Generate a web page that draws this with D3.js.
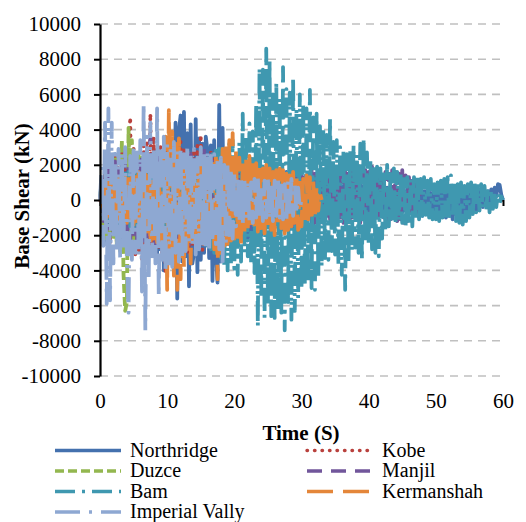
<!DOCTYPE html>
<html>
<head>
<meta charset="utf-8">
<script src="https://cdn.jsdelivr.net/npm/d3@7"></script>
<style>
  body { margin: 0; background: #fff; }
  svg text { font-family: "Liberation Serif", "Times New Roman", Times, Tinos, "DejaVu Serif", serif; fill: #000; }
</style>
</head>
<body>
<div id="chart"></div>
<script>
// sampling step of the records (s)
const dt = 0.25;

const seriesNames = ["Northridge", "Kobe", "Duzce", "Manjil", "Bam", "Kermanshah", "Imperial Vally"];
const timeTicks = [0, 10, 20, 30, 40, 50, 60];
const shearTicks = [-10000, -8000, -6000, -4000, -2000, 0, 2000, 4000, 6000, 8000, 10000];

// base shear (kN), one value every dt
const northridge = [
  0, 1200, -1800, 2200, -2500, 1900, -2100, 2400, -2000, 2600, -2300, 1800, -2600, 2100, -2400, 2700, -2200, 2300, -2800, 2000,
  -2500, 2600, -2100, 2400, -2900, 2200, -2400, 2700, -2300, 2500, -2700, 2100, -2600, 2800, -3100, 2400, -2800, 2600, -4000, 2900,
  -3200, 3100, -3600, 3400, -3000, 4400, -5600, 3900, 4800, -3500, 5000, -3200, 3800, -4900, 4300, -3600, -3000, 4600, -4100, 3500,
  -3400, 3200, -3000, 3600, 2800, -3300, 3100, -4600, 3400, -3000, -4700, 5400, -3500, 4100, -2800, 2600, -2500, 2300, -2700, 2000,
  -2200, 1900, -2400, 2100, -1800, 2300, -2000, 1700, -2300, 2000, -2100, 1800, -1900, 2200, -1700, 1600, -2000, 1900, -1600, 1800,
  -1500, 1700, -1900, 1400, -1600, 1800, -1400, 1500, -1700, 1300, -1500, 1600, -1200, 1400, -1600, 1300, -1400, 1200, -1300, 1500,
  -1200, 1100, -1400, 1300, -1000, 1200, -1300, 1000, -1100, 1300, -1200, 900, -1000, 1200, -1100, 1000, -900, 1100, -1200, 900,
  -1000, 1000, -800, 1100, -900, 800, -1000, 900, -700, 1000, -900, 800, -1000, 700, -800, 900, -700, 800, -900, 700,
  -800, 900, -700, 600, -800, 700, -900, 600, -700, 800, -600, 700, -800, 600, -700, 500, -600, 700, -500, 600,
  -700, 500, -600, 700, -500, 600, -700, 400, -600, 500, -800, 600, -900, 500, -700, 600, -800, 400, -600, 500,
  -700, 600, -900, 500, -800, 400, -1000, 500, -900, 600, -1100, 400, -800, 500, -1100, 600, -900, 700, -1000, 500,
  -600, 700, -500, 400, -600, 500, -300, 600, -400, 300, -200, 500, -300, 600, -100, 700, 200, 900, 850, 300,
  0
];

const kobe = [
  0, 900, -1500, 2000, -2200, 1800, -2500, 2300, -2000, 2600, -2400, 2200, -2700, 2900, -2300, 3000, -2600, 2400, 4700, -2800,
  3000, -3100, 2700, -2900, 2500, -3500, 3100, -2800, 3300, -2600, 4900, -3000, 3600, -3200, 2900, -2700, 3100, -3300, 2600, -4200,
  2800, -3000, 2700, -3400, 3000, -2900, 2500, -3100, 3300, -2700, 3000, -2800, 2600, -3000, 2800, -2500, 2900, -2600, 3100, -2700,
  3700, -2850, 2600, -2400, 2500, -2300, 2700, -2200, 2300, -2000, 2100, -2400, 2000, -1800, 1900, -1600, 1500, -1400, 1200, -900,
  0
];

const duzce = [
  0, 1100, -1600, 1900, -2200, 2000, -1800, 2400, -2100, 2300, -2600, 2700, -2900, 3400, -4200, -6300, -5800, 4100, -2600, 3400,
  -2400, 2600, -2200, 2700, -2300, 2400, -2000, 2200, -2500, 2100, -2200, 2300, -2000, 2200, -2300, 1900, -2100, 2000, -1800, 2100,
  -2000, 1900, -2200, 1800, -1900, 2000, -2100, 1700, -2000, 1800, -2200, 1900, -2000, 1700, -2400, 1800, -1900, 1600, -1700, 1500,
  -1600, 1400, -1500, 1300, -1400, 1200, -1300, 1100, -1200, 1000, -1100, 900, -900, 800, -800, 700, -600, 500, -400, 300,
  0
];

const manjil = [
  0, 800, -1200, 1500, -1700, 1900, -1600, 2100, -1900, 2200, -2000, 1800, -2300, 2100, -1900, 2400, -2200, 2000, -2500, 2300,
  -2100, 2600, -2400, 2200, -2600, 2500, -2300, 2800, -2500, 2200, 3600, -2400, 2700, -2600, 2500, -2300, 2400, -2700, 2600, -2500,
  2300, -2400, 2100, -2700, 2500, -2200, 2400, -2000, 2000, -2300, 2200, -2100, 2400, -2500, 2600, -2200, 2300, -2850, 2500, -3000,
  2700, -2400, 3000, -2600, 2400, -2300, 2600, -2100, 2200, -2000, 2300, -1900, 2000, -2100, 1800, -1700, 1900, -1800, 1700, -1600,
  1800, -1700, 1600, -1800, 1700, -1500, 1900, -1600, 1500, -1700, 1800, -1400, 1600, -1500, 1700, -1600, 1400, -1500, 1600, -1300,
  1500, -1600, 1700, -1400, 1500, -1300, 1600, -1500, 1400, -1600, 1300, -1400, 1500, -1200, 1600, -1500, 1400, -1300, 1500, -1400,
  1600, -1300, 1500, -1500, 1400, -1200, 1700, -1400, 1500, -1300, 1600, -1100, 1400, -1300, 1700, -1200, 1800, -1100, 1500, -1300,
  1600, -1200, 1700, -1000, 1500, -1300, 1800, -1100, 1600, -1200, 1900, -1000, 1700, -1100, 1600, -1300, 1500, -1000, 1700, -1200,
  1600, -1100, 1900, -1000, 1800, -1200, 1500, -1100, 1400, -1000, 1600, -1200, 1500, -1100, 1700, -1000, 1600, -1200, 1500, -1100,
  1700, -1300, 1400, -1200, 1300, -1000, 1100, -900, 900, -700, 700, -500,
  0
];

const bam = [
  0, 600, -900, 1100, -1200, 1000, -1300, 1200, -1100, 1400, -1200, 1300, -1500, 1200, -1400, 1500, -1300, 1600, -1500, 1400,
  -1600, 1500, -1400, 1700, -1500, 1400, -1700, 1600, -1400, 1800, -1600, 1500, -1700, 1600, -1800, 1400, -1600, 1700, -1500, 1800,
  -1800, 1600, -1700, 1900, -1700, 1800, -1900, 1700, -1900, 2000, -1800, 1900, -2000, 1800, -2100, 2000, -2200, 2100, -2000, 2300,
  -2400, 2200, -2300, 2500, -2600, 2400, -2800, 2600, -3000, 2800, -2700, 3000, -3300, 3100, -3800, 2900, -4000, 3200, -3600, 3400,
  -3900, 2700, -4250, 3300, -3500, 4900, -3000, 3600, -3200, 4350, -3700, 3900, -4150, 5500, -7200, 7500, -5600, 7400, -6700, 8600,
  -5900, 7900, -6600, 6000, -6700, 6700, -6200, 5800, -6400, 7550, -7400, 6300, -5800, 6100, -6800, 7000, -6300, 5200, -5600, 6000,
  -5100, 5500, -4800, 5200, -4600, 6250, -5000, 4700, -5100, 4900, -4400, 4200, -3800, 4000, -3300, 3700, -3400, 4600, -2900, 3300,
  -3100, 3400, -3700, 3000, -4250, 2900, -5100, 2600, -3500, 2800, -2900, 3100, -2700, 2600, -3000, 3200, -3400, 3500, -2400, 2700,
  -2600, 2300, -2800, 2000, -3000, 1900, -3200, 1800, -2200, 1700, -1800, 2000, -1500, 1600, -1300, 1800, -1400, 1600, -1200, 1500,
  -1300, 1400, -1500, 1300, -1400, 1200, -1500, 1300, -1200, 1400, -1100, 1200, -900, 1300, -850, 1100, -1000, 1200, -1100, 900,
  -1100, 1000, -1200, 1100, -1000, 1200, -900, 1300, -1100, 1400, -1000, 1100, -1200, 900, -1300, 1000, -1400, 800, -1200, 900,
  -1000, 1000, -800, 1100, -700, 1000, -600, 900, -450, 800, -600, 700, -700, 600, -500, 500, -400, 400, -200, 200,
  0
];

const kermanshah = [
  0, 500, -800, 900, -1000, 1100, -900, 1200, -1100, 1000, -1300, 1200, -1200, 1300, -1100, 1400, -1300, 1200, -1500, 1300,
  -1400, 1500, -1200, 1600, -1500, 1400, -1700, 1500, -1800, 1600, -2500, 1400, -2200, 1900, -2400, 2100, -2600, 2800, -3500, 3600,
  -5100, 5100, -3600, 3900, -4300, 3200, -5100, 3500, -4500, 2300, -3800, 2200, -2800, 2100, -3600, 2000, -2400, 2200, -2300, 1900,
  -2200, 2100, -2500, 2000, -2300, 2200, -2100, 2300, -2800, 2600, -4500, 2500, -3000, 2900, -2600, 3200, -2500, 3400, -2300, 3800,
  -2200, 2800, -2100, 2400, -2500, 2100, -1900, 2300, -1700, 2500, -1500, 2200, -1400, 2100, -1800, 1900, -1600, 1800, -1900, 2000,
  -1500, 1800, -1700, 1600, -2000, 1700, -1400, 1800, -1600, 1700, -1900, 1500, -1700, 1400, -1500, 1600, -1300, 1500, -1700, 1300,
  -1500, 1200, -1400, 1400, -1100, 1300, -1200, 1100, -900, 800, -600, 400,
  0
];

const imperialVally = [
  0, 1900, -2600, 4400, -5900, 5200, -5700, 4400, -3600, 2600, -3000, 2900, -3300, 2700, -2800, 3000, -3400, -6400, 2500, -3400,
  3100, -3000, 2700, -3200, 3400, -5200, 5500, -7400, 3600, -4600, 4400, -3200, 3000, -3600, 5200, -5500, 3100, -3400, 3600, -4000,
  3200, -3600, 2900, -3800, 3300, -3000, 2800, -3500, 3000, -3200, 2600, -2900, 3100, -2400, 2700, -2600, 2900, -3100, 2400, -2800,
  3000, -2600, 2600, -2700, 2800, -3000, 2500, -2400, 2600, -2500, 2300, -2800, 2400, -3800, 2000, -2500, 2100, -2000, 1800, -2200,
  1600, -1500, 1400, -1300, 1300, -1400, 1200, -1100, 1100, -1200, 1000, -1300, 1200, -1000, 1300, -1100, 900, -1200, 1100, -1000,
  1200, -1100, 1000, -1200, 1100, -900, 1200, -1000, 1000, -1100, 900, -1200, 1100, -1000, 1200, -900, 900, -800, 700, -500,
  0
];

const records = [northridge, kobe, duzce, manjil, bam, kermanshah, imperialVally];

// look of each series (same order as the names)
const colors = ["#4471ae", "#b9413d", "#93b74f", "#71569b", "#3f98b0", "#e4863a", "#8ea8d2"];
const dashes = ["none", "0.5,7", "9,4", "15,9", "20,7,3,7", "26,10", "25,9,3,9"];
const caps = ["butt", "round", "butt", "butt", "butt", "butt", "butt"];

const width = 526, height = 522;
const serif = "'Liberation Serif', 'Times New Roman', Times, Tinos, 'DejaVu Serif', serif";

const svg = d3.select("#chart").append("svg")
  .attr("width", width)
  .attr("height", height);

svg.append("rect").attr("width", width).attr("height", height).attr("fill", "#fff");

const x = d3.scaleLinear().domain([0, 60]).range([100, 503]);
const y = d3.scaleLinear().domain([-10000, 10000]).range([376, 24]);

// horizontal gridlines
svg.append("g")
  .selectAll("line")
  .data(shearTicks)
  .enter().append("line")
  .attr("x1", x(0))
  .attr("x2", x(60))
  .attr("y1", d => y(d))
  .attr("y2", d => y(d))
  .attr("stroke", "#c0c0c0")
  .attr("stroke-width", 1.6)
  .attr("stroke-dasharray", "8,6");

// time axis line crosses at zero
const xAxis = svg.append("g")
  .attr("transform", `translate(0,${y(0)})`)
  .call(d3.axisBottom(x).tickValues(timeTicks).tickSize(6).tickSizeOuter(0).tickFormat(""));
xAxis.select(".domain").attr("stroke", "#000").attr("stroke-width", 2);
xAxis.selectAll(".tick line").attr("stroke", "#000").attr("stroke-width", 2);

// the records
const line = d3.line()
  .x((d, i) => x(i * dt))
  .y(d => y(d));

svg.append("g")
  .selectAll("path")
  .data(records)
  .enter().append("path")
  .attr("d", line)
  .attr("fill", "none")
  .attr("stroke", (d, i) => colors[i])
  .attr("stroke-width", 3.8)
  .attr("stroke-linejoin", "round")
  .attr("stroke-linecap", (d, i) => caps[i])
  .attr("stroke-dasharray", (d, i) => dashes[i]);

// time labels at the bottom
const xLabels = svg.append("g")
  .attr("transform", `translate(0,${y(-10000)})`)
  .call(d3.axisBottom(x).tickValues(timeTicks).tickSize(0).tickPadding(17).tickFormat(d => String(d)));
xLabels.select(".domain").remove();
xLabels.attr("font-family", serif).attr("font-size", 21);
xLabels.selectAll("text").style("font-family", serif).attr("fill", "#000");

// shear axis
const yAxis = svg.append("g")
  .attr("transform", `translate(${x(0)},0)`)
  .call(d3.axisLeft(y).tickValues(shearTicks).tickSize(6).tickSizeOuter(0).tickPadding(13).tickFormat(d => String(d)));
yAxis.select(".domain").attr("stroke", "#000").attr("stroke-width", 2.2);
yAxis.selectAll(".tick line").attr("stroke", "#000").attr("stroke-width", 2);
yAxis.attr("font-family", serif).attr("font-size", 21);
yAxis.selectAll("text").style("font-family", serif).attr("fill", "#000");

// axis titles
svg.append("text")
  .attr("x", 301)
  .attr("y", 440)
  .attr("text-anchor", "middle")
  .style("font-family", serif)
  .attr("font-size", 21)
  .attr("font-weight", "bold")
  .text("Time (S)");

svg.append("text")
  .attr("transform", "translate(29,196) rotate(-90)")
  .attr("text-anchor", "middle")
  .style("font-family", serif)
  .attr("font-size", 21)
  .attr("font-weight", "bold")
  .text("Base Shear (kN)");

// legend, two columns
const legend = svg.append("g")
  .selectAll("g")
  .data(seriesNames)
  .enter().append("g")
  .attr("transform", (d, i) => `translate(${i % 2 ? 307 : 55},${450.5 + Math.floor(i / 2) * 20.5})`);

legend.append("line")
  .attr("x1", 0)
  .attr("x2", 66)
  .attr("stroke", (d, i) => colors[i])
  .attr("stroke-width", 3.4)
  .attr("stroke-linecap", (d, i) => caps[i])
  .attr("stroke-dasharray", (d, i) => dashes[i]);

legend.append("text")
  .attr("x", 75)
  .attr("y", 6)
  .style("font-family", serif)
  .attr("font-size", 20)
  .text(d => d);
</script>
</body>
</html>
